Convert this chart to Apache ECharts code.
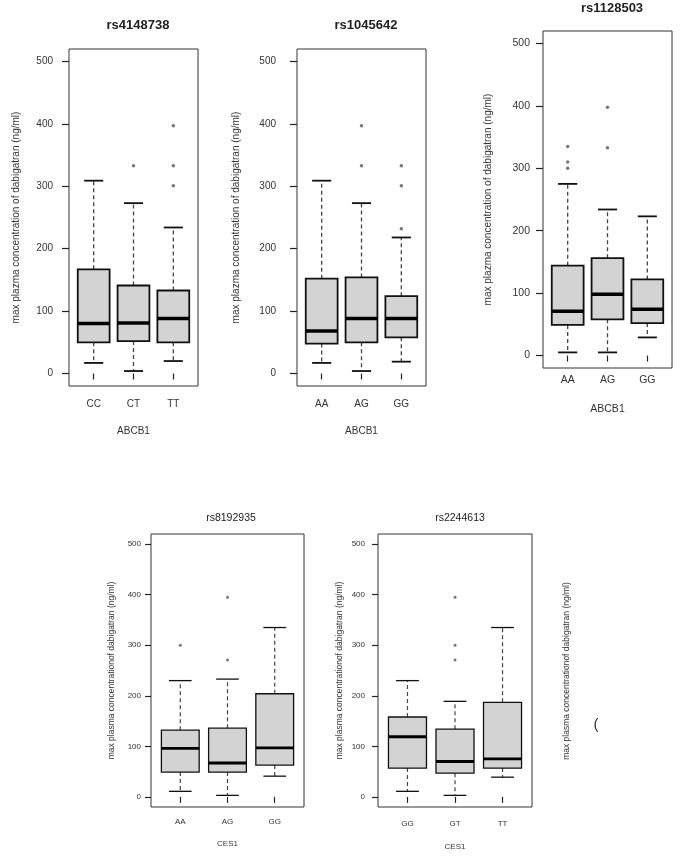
<!DOCTYPE html>
<html>
<head>
<meta charset="utf-8">
<script src="https://cdn.jsdelivr.net/npm/echarts@6/dist/echarts.min.js"></script>
<style>
html, body { margin: 0; padding: 0; background: #fff; }
#chart { width: 689px; height: 859px; }
</style>
</head>
<body>
<div id="chart"></div>
<script type="text/javascript">
// box stats per genotype: [lower whisker, Q1, median, Q3, upper whisker]
var p1Cats = ['CC', 'CT', 'TT'];
var p1Stats = [[17, 50, 80, 167, 309], [4, 52, 81, 141, 273], [20, 50, 88, 133, 234]];
var p1Out = [[2, 333], [3, 397], [3, 333], [3, 301]];

var p2Cats = ['AA', 'AG', 'GG'];
var p2Stats = [[17, 48, 68, 152, 309], [4, 50, 88, 154, 273], [19, 58, 88, 124, 218]];
var p2Out = [[2, 397], [2, 333], [3, 333], [3, 301], [3, 232]];

var p3Cats = ['AA', 'AG', 'GG'];
var p3Stats = [[5, 49, 71, 144, 275], [5, 58, 98, 156, 234], [29, 52, 74, 122, 223]];
var p3Out = [[1, 335], [1, 310], [1, 300], [2, 398], [2, 333]];

var p4Cats = ['AA', 'AG', 'GG'];
var p4Stats = [[11, 49, 96, 132, 230], [3, 49, 67, 136, 233], [41, 63, 97, 204, 335]];
var p4Out = [[1, 300], [2, 395], [2, 271]];

var p5Cats = ['GG', 'GT', 'TT'];
var p5Stats = [[11, 57, 119, 158, 230], [3, 47, 70, 134, 189], [39, 57, 75, 187, 335]];
var p5Out = [[2, 395], [2, 300], [2, 271]];

var yTicks = [0, 100, 200, 300, 400, 500];
var xTicks = [1, 2, 3];

var titlesTop = ['rs4148738', 'rs1045642', 'rs1128503'];
var titlesBottom = ['rs8192935', 'rs2244613'];

var yTitleTop = 'max plazma concentration of dabigatran (ng/ml)';
var yTitleBottom = 'max plasma concentrationof dabigatran (ng/ml)';

var FONT = 'Liberation Sans';

var panels = [
    {cats: p1Cats, stats: p1Stats, out: p1Out, xName: 'ABCB1',
     grid: {left: 69, top: 49, width: 129, height: 337},
     fs: 10, yMargin: 16, yGap: 48, xMargin: 13, xGap: 40, big: true},
    {cats: p2Cats, stats: p2Stats, out: p2Out, xName: 'ABCB1',
     grid: {left: 297, top: 49, width: 129, height: 337},
     fs: 10, yMargin: 21, yGap: 56, xMargin: 13, xGap: 40, big: true},
    {cats: p3Cats, stats: p3Stats, out: p3Out, xName: 'ABCB1',
     grid: {left: 543, top: 31, width: 129, height: 337},
     fs: 10.5, yMargin: 13, yGap: 50, xMargin: 7, xGap: 36, big: true},
    {cats: p4Cats, stats: p4Stats, out: p4Out, xName: 'CES1',
     grid: {left: 151, top: 534, width: 153, height: 273},
     fs: 8, yMargin: 10, yGap: 35, xMargin: 11, xGap: 33, big: false},
    {cats: p5Cats, stats: p5Stats, out: p5Out, xName: 'CES1',
     grid: {left: 378, top: 534, width: 154, height: 273},
     fs: 8, yMargin: 13, yGap: 34, xMargin: 13, xGap: 36, big: false}
];

function makeBox(big) {
    var boxLw = big ? 1.8 : 1.3;
    var medLw = big ? 3.5 : 2.8;
    return function (params, api) {
        var x = api.value(0);
        var lo = api.coord([x, api.value(1)]);
        var q1 = api.coord([x, api.value(2)]);
        var md = api.coord([x, api.value(3)]);
        var q3 = api.coord([x, api.value(4)]);
        var hi = api.coord([x, api.value(5)]);
        var bw = api.size([0.8, 0])[0];
        var cw = bw * 0.6;
        var cx = md[0];
        var dash = {stroke: '#444', lineWidth: big ? 1.3 : 1.2, lineDash: [4, 3]};
        var solid = {stroke: '#111', lineWidth: boxLw};
        return {
            type: 'group',
            children: [
                {type: 'line', shape: {x1: cx, y1: q3[1], x2: cx, y2: hi[1]}, style: dash},
                {type: 'line', shape: {x1: cx, y1: q1[1], x2: cx, y2: lo[1]}, style: dash},
                {type: 'line', shape: {x1: cx - cw / 2, y1: hi[1], x2: cx + cw / 2, y2: hi[1]}, style: solid},
                {type: 'line', shape: {x1: cx - cw / 2, y1: lo[1], x2: cx + cw / 2, y2: lo[1]}, style: solid},
                {type: 'rect', shape: {x: cx - bw / 2, y: q3[1], width: bw, height: q1[1] - q3[1]},
                 style: {fill: '#d3d3d3', stroke: '#111', lineWidth: boxLw}},
                {type: 'line', shape: {x1: cx - bw / 2, y1: md[1], x2: cx + bw / 2, y2: md[1]},
                 style: {stroke: '#000', lineWidth: medLw}}
            ]
        };
    };
}

var grids = [], xAxes = [], yAxes = [], series = [];
panels.forEach(function (p, i) {
    grids.push({left: p.grid.left, top: p.grid.top, width: p.grid.width, height: p.grid.height,
        show: true, borderColor: '#333', borderWidth: 1, backgroundColor: 'transparent'});
    xAxes.push({
        gridIndex: i, type: 'value', min: 0.38, max: 3.62,
        axisLine: {show: false}, splitLine: {show: false},
        axisTick: {customValues: xTicks, length: 6, lineStyle: {color: '#222', width: 1.2}},
        axisLabel: {customValues: xTicks, margin: p.xMargin, fontSize: p.fs, fontFamily: FONT, color: '#333',
            formatter: function (v) { return p.cats[Math.round(v) - 1]; }},
        name: p.xName, nameLocation: 'middle', nameGap: p.xGap,
        nameTextStyle: {fontSize: p.fs, fontFamily: FONT, color: '#333'}
    });
    yAxes.push({
        gridIndex: i, type: 'value', min: -20, max: 520,
        axisLine: {show: false}, splitLine: {show: false},
        axisTick: {customValues: yTicks, length: p.big ? 7 : 6, lineStyle: {color: '#222', width: 1.2}},
        axisLabel: {customValues: yTicks, margin: p.yMargin, fontSize: p.fs, fontFamily: FONT, color: '#333'},
        name: p.big ? yTitleTop : yTitleBottom, nameLocation: 'middle', nameGap: p.yGap,
        nameTextStyle: {fontSize: p.big ? 10 : 8.5, fontFamily: FONT, color: '#333'}
    });
    series.push({
        type: 'custom', xAxisIndex: i, yAxisIndex: i,
        renderItem: makeBox(p.big),
        encode: {x: 0, y: [1, 2, 3, 4, 5]},
        data: p.stats.map(function (s, k) { return [k + 1].concat(s); }),
        silent: true
    });
    series.push({
        type: 'scatter', xAxisIndex: i, yAxisIndex: i,
        symbol: 'circle', symbolSize: p.big ? 3.5 : 3,
        itemStyle: {color: '#555'},
        data: p.out, silent: true
    });
});

var myChart = echarts.init(document.getElementById('chart'));
myChart.setOption({
    backgroundColor: '#fff',
    animation: false,
    title: [
        {text: titlesTop[0], left: 133, top: 14, textAlign: 'center',
         textStyle: {fontSize: 13, fontWeight: 'bold', fontFamily: FONT, color: '#222'}},
        {text: titlesTop[1], left: 361, top: 14, textAlign: 'center',
         textStyle: {fontSize: 13, fontWeight: 'bold', fontFamily: FONT, color: '#222'}},
        {text: titlesTop[2], left: 607, top: -3, textAlign: 'center',
         textStyle: {fontSize: 13, fontWeight: 'bold', fontFamily: FONT, color: '#222'}},
        {text: titlesBottom[0], left: 226, top: 508, textAlign: 'center',
         textStyle: {fontSize: 10.5, fontWeight: 'normal', fontFamily: FONT, color: '#222'}},
        {text: titlesBottom[1], left: 455, top: 508, textAlign: 'center',
         textStyle: {fontSize: 10.5, fontWeight: 'normal', fontFamily: FONT, color: '#222'}}
    ],
    graphic: [
        {type: 'text', x: 567, y: 671, rotation: Math.PI / 2,
         style: {text: yTitleBottom, font: '8.5px ' + FONT, fill: '#333',
                 align: 'center', verticalAlign: 'middle'}},
        {type: 'text', x: 596, y: 725,
         style: {text: '(', font: '15px ' + FONT, fill: '#333',
                 align: 'center', verticalAlign: 'middle'}}
    ],
    grid: grids,
    xAxis: xAxes,
    yAxis: yAxes,
    series: series
});
</script>
</body>
</html>
